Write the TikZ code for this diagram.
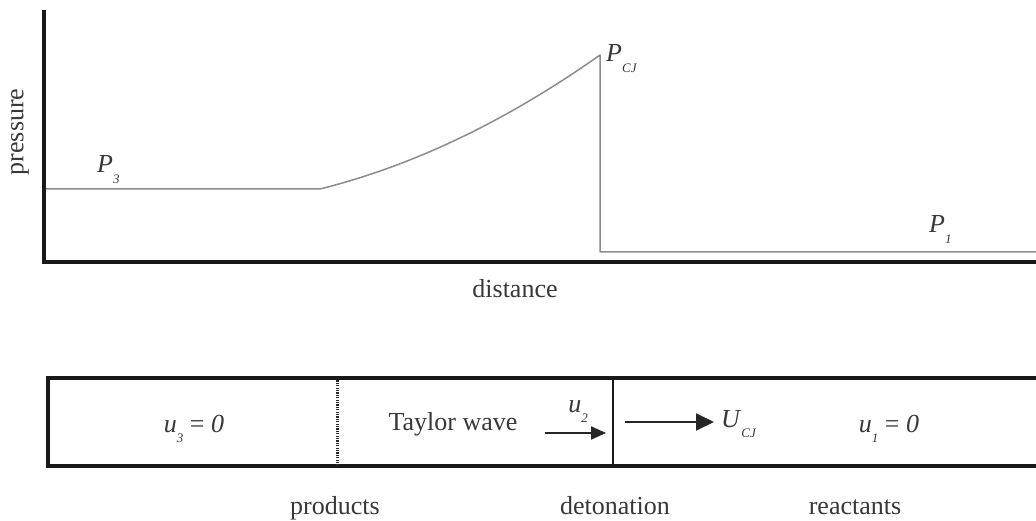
\documentclass[tikz,border=0pt]{standalone}
\usepackage{fontspec}
\setmainfont{Liberation Serif}
\usetikzlibrary{arrows.meta}
\newcommand{\sbs}[1]{\raisebox{-0.42em}{\fontsize{13}{13}\selectfont\textit{#1}}}
\tikzset{
  lbl/.style={inner sep=0pt, text=black!78, font=\fontsize{26}{30}\selectfont},
  axisline/.style={line width=4pt, black!90},
  plotline/.style={line width=1.5pt, black!45},
  boxline/.style={line width=3.5pt, black!90},
  arr/.style={line width=2pt, black!85}
}
\begin{document}
\begin{tikzpicture}[x=1pt,y=-1pt]
\useasboundingbox (0,0) rectangle (1036,521);
% axes
\coordinate (ytop) at (44,10);
\coordinate (orig) at (44,262);
\coordinate (xend) at (1036,262);
\draw[axisline] (ytop) -- (orig) -- (xend);
% pressure profile
\coordinate (p3s) at (46,189);
\coordinate (p3e) at (320,189);
\coordinate (pcj) at (600,55);
\coordinate (p1s) at (600,252);
\coordinate (p1e) at (1036,252);
\draw[plotline, line join=round] (p3s) -- (p3e) .. controls (412,166) and (505,122) .. (pcj) -- (p1s) -- (p1e);
% labels
\node[lbl, rotate=90] (pres) at (20,132) {pressure};
\node[lbl, anchor=base] (dist) at (515,298) {distance};
\node[lbl, anchor=base west] (lp3) at (97,173) {\textit{P}\sbs{3}};
\node[lbl, anchor=base west] (lpcj) at (606,62) {\textit{P}\sbs{CJ}};
\node[lbl, anchor=base west] (lp1) at (929,233) {\textit{P}\sbs{1}};
% tube
\coordinate (bl) at (48,466);
\coordinate (tr) at (1040,378);
\draw[boxline] (bl) rectangle (tr);
\coordinate (dtop) at (337,378);
\coordinate (dbot) at (337,466);
\draw[line width=3pt, black!85, dash pattern=on 1.2pt off 1.2pt] (dtop) -- (dbot);
\coordinate (ftop) at (613,378);
\coordinate (fbot) at (613,466);
\draw[line width=2.2pt, black!90] (ftop) -- (fbot);
\node[lbl, anchor=base] (u3) at (194,432) {\textit{u}\sbs{3} = \textit{0}};
\node[lbl, anchor=base] (tw) at (453,430) {Taylor wave};
\node[lbl, anchor=base] (u2) at (578,412) {\textit{u}\sbs{2}};
\coordinate (a1s) at (545,433);
\coordinate (a1e) at (606,433);
\draw[arr, -{Triangle[length=15pt,width=13pt]}] (a1s) -- (a1e);
\coordinate (a2s) at (625,422);
\coordinate (a2e) at (714,422);
\draw[arr, -{Triangle[length=18pt,width=17pt]}] (a2s) -- (a2e);
\node[lbl, anchor=base west] (ucj) at (721,427) {\textit{U}\sbs{CJ}};
\node[lbl, anchor=base] (u1) at (889,432) {\textit{u}\sbs{1} = \textit{0}};
\node[lbl, anchor=base] (prod) at (335,514) {products};
\node[lbl, anchor=base] (deto) at (615,514) {detonation};
\node[lbl, anchor=base] (reac) at (855,514) {reactants};
\end{tikzpicture}
\end{document}
